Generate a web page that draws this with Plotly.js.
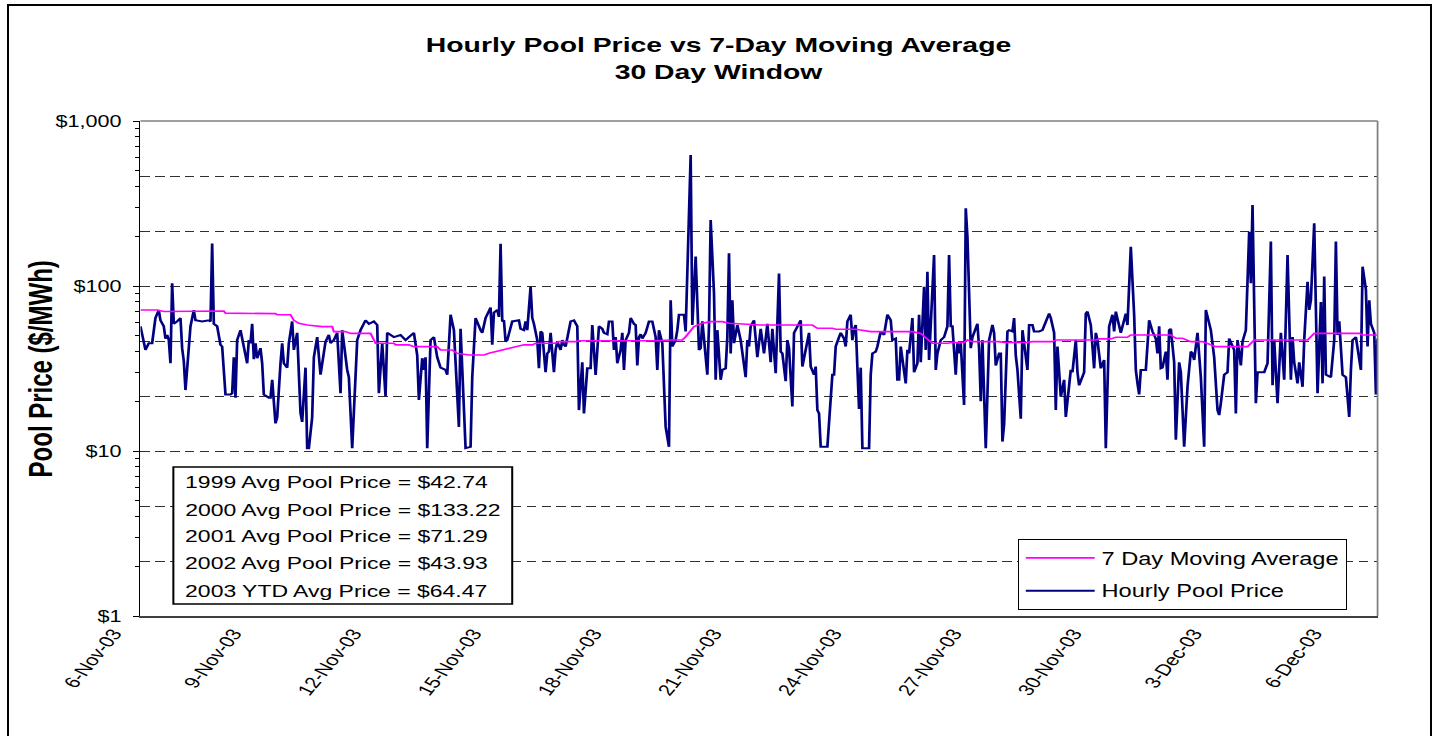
<!DOCTYPE html>
<html>
<head>
<meta charset="utf-8">
<script src="https://cdn.plot.ly/plotly-3.0.1.min.js"></script>
<style>
html,body{margin:0;padding:0;background:#fff;overflow:hidden;width:1437px;height:736px;}
#wrap{position:absolute;left:0;top:0;width:1064px;height:736px;transform:scaleX(1.350564);transform-origin:0 0;}
#frame{position:absolute;left:7px;top:4px;width:1425px;height:800px;border:2px solid #000;box-sizing:border-box;pointer-events:none;}
</style>
</head>
<body>
<div id="wrap"><div id="chart" style="width:1064px;height:736px"></div></div>
<div id="frame"></div>
<script>
// ---- data (hours since 6-Nov-03 00:00, $/MWh) ----
const startDate = Date.UTC(2003, 10, 6);

const hourlyHours = [0,3,5,7,9,11,12,14,15,16,17,18,19,20,22,24,25,26,27,29,30,32,33,37,41,42,43,44,46,48,49,51,54,55,56,57,58,60,63,64,65,66,67,68,69,70,72,73,74,77,78,79,81,82,84,85,86,88,89,91,92,94,96,97,99,100,101,103,104,106,108,111,113,114,116,118,120,121,124,125,127,130,132,135,137,140,142,143,145,147,148,152,156,159,161,164,166,167,169,170,171,172,174,176,178,180,183,184,186,188,191,192,195,198,199,201,204,205,207,210,
211,212,214,215,216,217,218,219,220,222,223,227,228,230,231,232,234,235,236,238,239,240,241,243,244,245,246,248,249,250,252,253,254,255,256,258,260,262,263,265,266,268,270,271,273,274,275,277,278,280,281,283,284,285,286,288,289,290,291,293,294,296,297,298,299,300,301,303,305,307,308,309,310,311,313,315,317,318,319,321,322,323,326,327,330,331,333,335,336,337,338,340,341,342,344,345,346,348,349,351,352,353,354,355,356,358,360,363,364,365,366,368,370,372,374,375,376,378,379,381,383,384,385,387,388,389,391,392,396,397,401,402,404,405,406,407,408,412,
414,415,416,417,419,420,422,423,424,426,427,428,429,430,431,432,433,437,438,439,441,442,443,444,446,448,450,451,453,454,455,456,459,460,461,463,464,466,467,468,470,471,472,473,476,477,478,480,482,484,485,486,487,489,490,491,492,494,495,496,498,499,502,503,504,505,507,509,511,512,513,515,516,517,518,520,521,523,524,525,526,528,529,531,532,533,535,536,539,541,543,545,546,548,549,550,552,554,555,557,558,559,560,561,562,563,566,567,568,570,572,573,574,575,576,578,579,581,583,584,585,588,591,592,594,596,597,598,599,600,603,605,607,609,610,611,612,613,615,616,617,618,620,621,623,624,626,628,630,631,632,634,636,638,639,642,644,646,647,648,650,652,653,656,657,658,660,661,663,665,666,667,669,670,674,676,678,679,680,682,684,686,688,690,691,692,694,695,697,698,700,701,702,704,706,708,709,710,711,714,716,717,718,719,721,723,725,726,727,729,731,732,733,735,736,737,738,740,741,742];

const hourlyPrices = [57,41,45,45,64,71.5,62,57,48,50.5,47,34,104,59,61,64,42,35,23.4,45,57,71.5,62,61,62,61,181,59,57,44,43,22,22,22.4,37,21,47,54,39,34,47,45,59,36,45,36.5,42,34,22,21,21,27,14.7,16,34,45,34,32,45,61,41,52,17,15,32,10.4,10.4,16,37,49,29,46,50.5,45,47,52,22.4,54,31,28,10.4,47,54,62,59,61,58,22.4,45,21.5,52,49,50.5,47,49,52,38,20.4,36.5,31,37,10.4,47,49,37,32,31,29,67,54,14,55,10.4,10.6,28,64,54,52,64,74,
44,69,71.6,65,180,61,62,46,47,57,61,62,55,54,61,54,99,64,59,47,31.7,53,52,30,39,40,52,30,41,46,41,47,44,43,48,61,62,57,17.7,34.5,16.9,31.7,31.7,58,28.9,43,57,55,52,51,61,61,41,49,34,41,52,31,47,52,64,59,58,33,49,51,48,52,61,61,54,49,31,54,45,14,10.6,82,43,47,54,67,67,53,622,58,151,41,42,61,48,29,57,251,90,27,54,27,31,31.7,49,158,39,82,45,58,47,28,47,43,57,62,37,55,39,52,59,34.5,55,29.6,119,40,39,26.5,47,42,18.6,52,62,32.5,52,32.5,29,32.5,17.7,16.9,10.6,10.6,
22,29,29,43,49,52,48,43,61,67,47,55,58,25,18,32,10.4,10.4,29,39,40,43,47,53,50.5,67,62,47,48,27,27,43,25.7,41,39,64,30,34,67,34.5,99,41,122,35.6,154,31,39,47,49,57,154,57,57,29,45,39,45,19,296,199,42,49,59,42,20,47,10.4,47,58,52,33,39,39,11.4,14.5,53,54,53,64,38,31,15.7,54,37,31,58,58,53,53,54,61,68,64,52,17.7,43,21.3,27,16.1,25.7,31,30,37,47,30,25,30,68,70,58,31.7,52,47,39,31.7,35.6,10.4,57,67,53,70,52,68,58,173,67,31,25.7,22,31,31,62,53,48,39,57,31.7,32,40,27,54,55,34.5,11.7,34.5,30,10.6,24.5,40,39,35.6,52,28,10.6,71.6,54,37,17.7,16.5,19.5,29,30,48,41,16.9,47,33,46,54,213,104,310,19.5,30,30,34,186,25,47,19.5,52,27,154,27,49,34.5,25.7,34.5,24.5,47,106,71.6,82,240,22.4,80,25.7,114,29,28,47,186,50.5,61,29,28,16.1,31,47,49,37,31,131,95,43,82,59,52,22,48];

const maHours = [0,10,14,24,31,50,51,66,68,81,82,90,92,95,100,104,109,115,116,123,126,138,140,141,152,153,161,164,178,180,187,190,197,206,209,216,221,225,230,235,237,249,251,261,263,308,318,325,327,332,337,342,349,353,372,403,406,415,417,429,438,463,468,475,484,487,494,496,499,515,518,532,535,547,549,573,575,582,585,592,594,618,621,625,630,637,645,664,668,700,704,731,733,742];
const maValues = [71.6,71.6,70,70,70.5,70.5,68.5,68.5,68,68,67,67,62,59.4,58,57.5,56.7,56.7,52.9,52.9,51.6,51.6,47.1,45,45,44,44,42.9,42.9,40.9,40.9,39.1,38.2,38.2,39.1,40.9,41.9,42.9,44,44,45,45,46,46,46.6,46.6,47.1,47.1,49.3,56.7,59.4,60.8,60.8,59.4,58,58,55.4,55.4,54.7,54.7,52.9,52.9,51.6,45,45,45.5,45.5,47.1,46,46,45.5,45.5,46,46,47.1,47.1,47.8,47.8,48.9,48.9,50.5,50.5,48.2,48.2,46,46,42.9,42.9,47.1,47.1,51.6,51.6,50.5,50.5];

const avgLabels = [
  '1999 Avg Pool Price = $42.74',
  '2000 Avg Pool Price = $133.22',
  '2001 Avg Pool Price = $71.29',
  '2002 Avg Pool Price = $43.93',
  '2003 YTD Avg Price = $64.47'
];
const yTickVals = [1, 10, 100, 1000];
const yTickText = ['$1', '$10', '$100', '$1,000'];
const yTitle = 'Pool Price ($/MWh)';

// ---- build ----
const toDate = h => startDate + h * 3600000;
const minorTicks = [];
[1, 10, 100].forEach(d => { for (let m = 2; m <= 9; m++) minorTicks.push(m * d); });
const gridVals = [];
for (let k = 1; k <= 8; k++) gridVals.push(Math.pow(10, k / 3));

const FONT = 'Liberation Sans, Arial, Helvetica, sans-serif';

const traces = [
  {
    type: 'scatter', mode: 'lines', name: 'Hourly Pool Price',
    x: hourlyHours.map(toDate), y: hourlyPrices,
    line: { color: '#000080', width: 2 },
    legendgroup: 'hourly', legendrank: 2, yaxis: 'y', hoverinfo: 'x+y'
  },
  {
    type: 'scatter', mode: 'lines', name: '7 Day Moving Average',
    x: maHours.map(toDate), y: maValues,
    line: { color: '#FF00FF', width: 1.6 },
    legendgroup: 'ma', legendrank: 1, yaxis: 'y2', hoverinfo: 'x+y'
  }
];

const annYs = [0.2687, 0.2141, 0.1596, 0.1051, 0.0505];
const annotations = avgLabels.map((t, i) => ({
  text: t, xref: 'paper', yref: 'paper', x: 0.0339, y: annYs[i],
  xanchor: 'left', yanchor: 'middle', showarrow: false,
  font: { family: FONT, size: 17, color: '#000' }
}));
annotations.push({
  text: '<b>' + yTitle + '</b>', xref: 'paper', yref: 'paper', x: -0.0808, y: 0.5,
  xanchor: 'center', yanchor: 'middle', textangle: -90, showarrow: false,
  font: { family: FONT, size: 24, color: '#000' }
});

const layout = {
  width: 1064, height: 736, autosize: false,
  margin: { l: 104, r: 44, t: 121, b: 120 },
  paper_bgcolor: '#fff', plot_bgcolor: '#fff',
  font: { family: FONT, color: '#000', size: 16 },
  showlegend: true,
  title: {
    text: '<b>Hourly Pool Price vs 7-Day Moving Average</b><br><b>30 Day Window</b>',
    font: { family: FONT, size: 21, color: '#000' },
    x: 0.5, xref: 'container', xanchor: 'center',
    y: 0.93, yref: 'container', yanchor: 'top'
  },
  xaxis: {
    type: 'date', range: [toDate(0), toDate(742)],
    tick0: startDate, dtick: 3 * 86400000, tickformat: '%-d-%b-%y',
    tickangle: -58, ticks: '', showgrid: false, zeroline: false,
    showline: true, linecolor: '#404040', linewidth: 2,
    ticklabelshift: -20,
    tickfont: { family: FONT, size: 16, color: '#000' }
  },
  yaxis: {
    type: 'log', range: [0, 3], tickmode: 'array',
    tickvals: yTickVals, ticktext: yTickText,
    ticks: 'outside', ticklen: 4.5, tickwidth: 1, tickcolor: '#000',
    showgrid: false, zeroline: false, showline: true, linecolor: '#000', linewidth: 1.3,
    tickfont: { family: FONT, size: 16, color: '#000' }, ticklabelstandoff: 5,
    minor: { tickmode: 'array', tickvals: minorTicks, ticks: 'outside', ticklen: 2.5, tickwidth: 1, tickcolor: '#000', showgrid: false }
  },
  yaxis2: {
    type: 'log', range: [0, 3], overlaying: 'y', side: 'left', anchor: 'x',
    tickmode: 'array', tickvals: gridVals, showticklabels: false, ticks: '',
    showgrid: true, gridcolor: '#303030', gridwidth: 1, griddash: '7px,4px',
    zeroline: false, showline: false
  },
  legend: {
    x: 0.7091, y: 0.1555, xanchor: 'left', yanchor: 'top',
    bgcolor: '#fff', bordercolor: '#000', borderwidth: 1,
    font: { family: FONT, size: 17.5, color: '#000' },
    tracegroupgap: 7, itemwidth: 51
  },
  shapes: [
    { type: 'line', xref: 'paper', yref: 'paper', x0: 0, x1: 1, y0: 1, y1: 1, line: { color: '#808080', width: 1.5 }, layer: 'above' },
    { type: 'line', xref: 'paper', yref: 'paper', x0: 1, x1: 1, y0: 0, y1: 1, line: { color: '#808080', width: 1.3 }, layer: 'above' },
    { type: 'rect', xref: 'paper', yref: 'paper', x0: 0.0266, x1: 0.3005, y0: 0.0242, y1: 0.301, fillcolor: '#fff', line: { color: '#000', width: 1.5 }, layer: 'above' }
  ],
  annotations: annotations
};

Plotly.newPlot('chart', traces, layout, { displayModeBar: false, staticPlot: true });
</script>
</body>
</html>
